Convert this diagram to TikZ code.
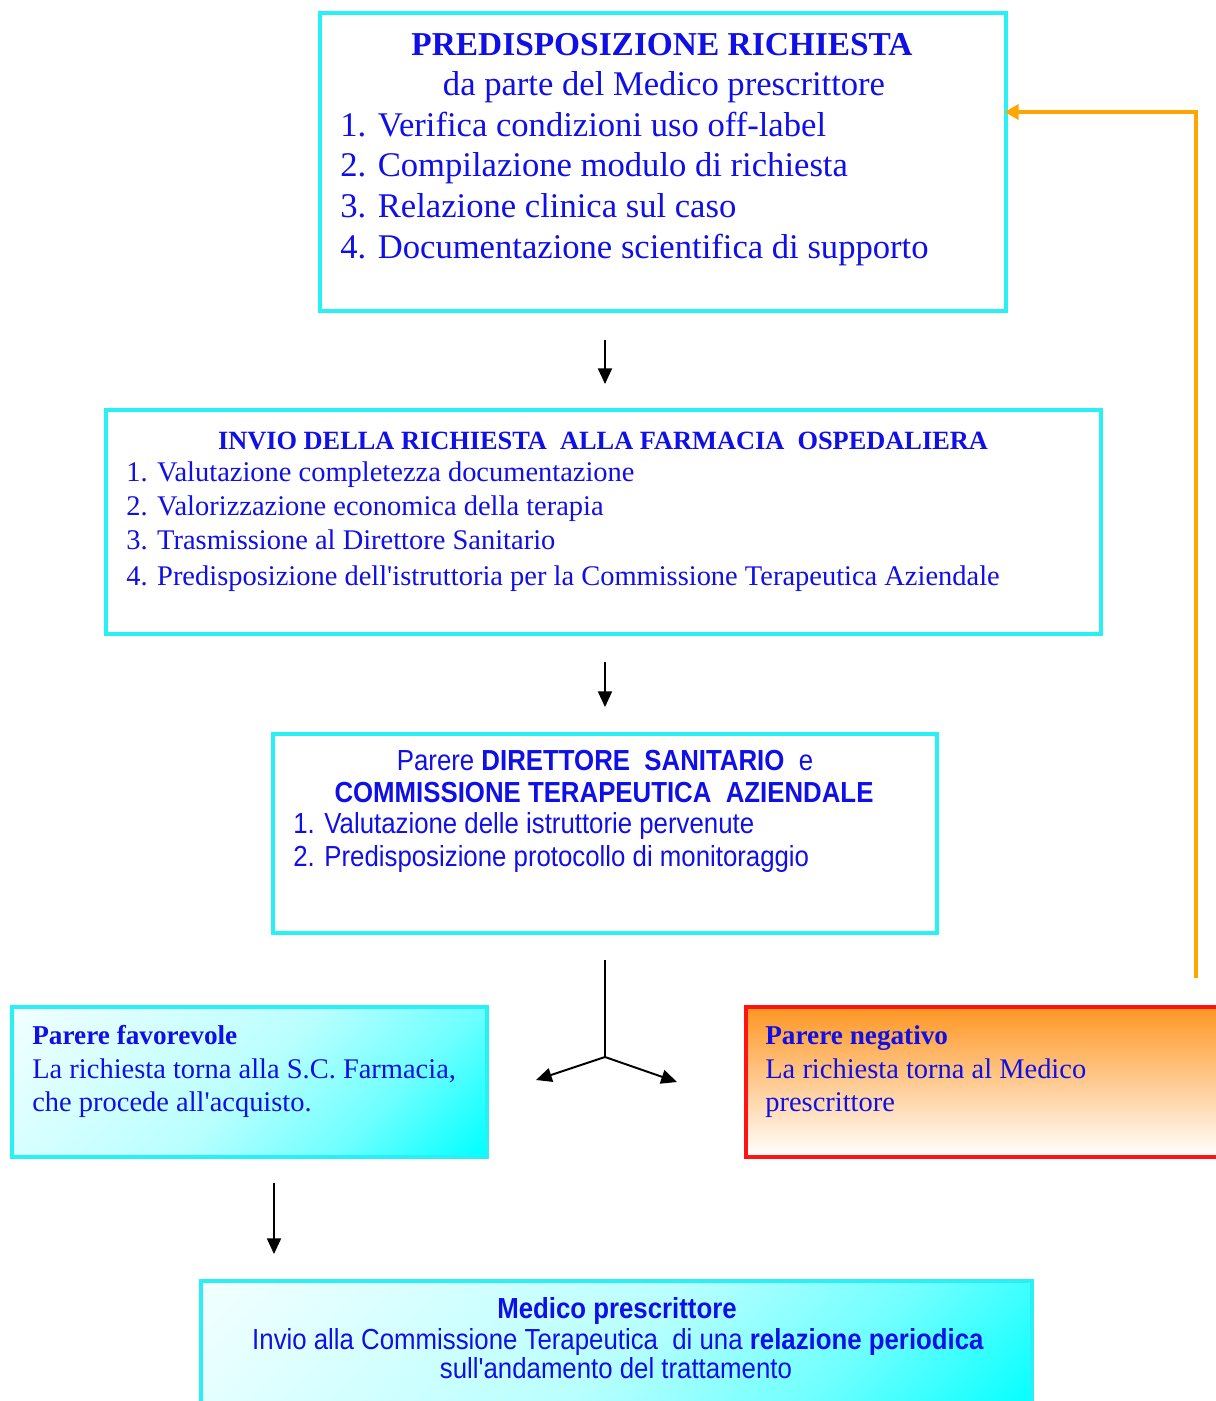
\documentclass[tikz,border=0pt]{standalone}
\usepackage{fontspec}
\newfontfamily\serifr{Liberation Serif}
\newfontfamily\sansc[FakeStretch=0.89]{Liberation Sans}
\usetikzlibrary{arrows.meta,fit,shadings}

\definecolor{txtblue}{RGB}{15,15,230}
\definecolor{boxcyan}{RGB}{40,240,245}
\definecolor{cyanA}{RGB}{110,255,255}
\definecolor{cyanB}{RGB}{185,255,255}
\definecolor{cyanC}{RGB}{242,255,255}
\definecolor{negred}{RGB}{255,20,20}
\definecolor{negorange}{RGB}{255,150,35}
\definecolor{negpeach}{RGB}{255,220,190}
\definecolor{retorange}{RGB}{255,165,0}

% diagonal cyan fill: nearly white in the upper left corner,
% full cyan in the lower right corner
\pgfdeclareverticalshading{diagcyan}{100bp}{%
  color(0bp)=(cyan); color(15bp)=(cyan); color(32bp)=(cyanA);
  color(50bp)=(cyanB); color(85bp)=(cyanC); color(100bp)=(cyanC)}

\tikzset{
  box/.style={draw=boxcyan, line width=2.3pt, fill=white, inner sep=0pt},
  cyanshade/.style={draw=boxcyan, line width=2.3pt, inner sep=0pt, shading=diagcyan, shading angle=45},
  negbox/.style={draw=negred, line width=2.3pt, inner sep=0pt,
                 top color=negorange, middle color=negpeach, bottom color=white},
  txt/.style={text=txtblue, inner sep=0pt},
  lft/.style={txt, anchor=base west},
  ctr/.style={txt, anchor=base},
  serifbig/.style={font=\serifr\fontsize{19.7}{24}\selectfont},
  serifmid/.style={font=\serifr\fontsize{16.2}{20}\selectfont},
  serifbold/.style={font=\serifr\bfseries\fontsize{15.5}{20}\selectfont},
  sansmid/.style={font=\sansc\fontsize{16.5}{20}\selectfont},
  sansbold/.style={font=\sansc\bfseries\fontsize{16.5}{20}\selectfont},
  flow/.style={draw=black, line width=1.1pt, -{Triangle[length=9pt,width=8pt]}},
  back/.style={draw=retorange, line width=2.8pt, -{Triangle[length=8pt,width=8.5pt]}},
}

\begin{document}
\begin{tikzpicture}[x=0.02cm, y=-0.02cm]
\useasboundingbox (0,0) rectangle (1215,1401);

% boxes
\node[box, fit={(320,13) (1006,311)}] (req) {};
\node[box, fit={(106,410) (1101,634)}] (farm) {};
\node[box, fit={(273,734) (937,933)}] (comm) {};
\node[cyanshade, fit={(12,1007) (487,1157)}] (fav) {};
\node[negbox, fit={(746,1007) (1235,1157)}] (neg) {};
\node[cyanshade, fit={(201,1281) (1032,1421)}] (med) {};

% request preparation
\node[ctr, font=\serifr\bfseries\fontsize{19}{24}\selectfont] (r0) at (662,55) {PREDISPOSIZIONE RICHIESTA};
\node[ctr, serifbig] (r1) at (664,95) {da parte del Medico prescrittore};
\node[lft, serifbig] (r2) at (340,136) {1. Verifica condizioni uso off-label};
\node[lft, serifbig] (r3) at (340,176) {2. Compilazione modulo di richiesta};
\node[lft, serifbig] (r4) at (340,217) {3. Relazione clinica sul caso};
\node[lft, serifbig] (r5) at (340,258) {4. Documentazione scientifica di supporto};

% hospital pharmacy
\node[ctr, font=\serifr\bfseries\fontsize{15}{20}\selectfont] (f0) at (603,449) {INVIO DELLA RICHIESTA\ \ ALLA FARMACIA\ \ OSPEDALIERA};
\node[lft, serifmid] (f1) at (126,481) {1. Valutazione completezza documentazione};
\node[lft, serifmid] (f2) at (126,515) {2. Valorizzazione economica della terapia};
\node[lft, serifmid] (f3) at (126,549) {3. Trasmissione al Direttore Sanitario};
\node[lft, serifmid] (f4) at (126,585) {4. Predisposizione dell'istruttoria per la Commissione Terapeutica Aziendale};

% committee opinion
\node[ctr, sansmid] (c0) at (605,770) {Parere \textbf{DIRETTORE\ \ SANITARIO}\ \ e};
\node[ctr, sansbold] (c1) at (604,802) {COMMISSIONE TERAPEUTICA\ \ AZIENDALE};
\node[lft, sansmid] (c2) at (293,833) {1. Valutazione delle istruttorie pervenute};
\node[lft, sansmid] (c3) at (293,866) {2. Predisposizione protocollo di monitoraggio};

% favourable opinion
\node[lft, serifbold] (p0) at (32,1044) {Parere favorevole};
\node[lft, serifmid] (p1) at (32,1078) {La richiesta torna alla S.C. Farmacia,};
\node[lft, serifmid] (p2) at (32,1111) {che procede all'acquisto.};

% negative opinion
\node[lft, serifbold] (n0) at (765,1044) {Parere negativo};
\node[lft, serifmid] (n1) at (765,1078) {La richiesta torna al Medico};
\node[lft, serifmid] (n2) at (765,1111) {prescrittore};

% periodic report
\node[ctr, sansbold] (m0) at (617,1318) {Medico prescrittore};
\node[ctr, sansmid] (m1) at (618,1349) {Invio alla Commissione Terapeutica\ \ di una \textbf{relazione periodica}};
\node[ctr, sansmid] (m2) at (616,1378) {sull'andamento del trattamento};

% connectors
\coordinate (fork) at (605,1057);
\coordinate (forkL) at (536,1080);
\coordinate (forkR) at (677,1082);
\coordinate (down) at (274,1183);
\coordinate (ret) at (1196,112);

\draw[flow, shorten <=27*0.5669pt, shorten >=24*0.5669pt] (req.south -| comm.north) -- (farm.north -| comm.north);
\draw[flow, shorten <=26*0.5669pt, shorten >=25*0.5669pt] (farm.south -| comm.north) -- (comm.north);
\draw[draw=black, line width=1.1pt, shorten <=25*0.5669pt] (comm.south) -- (fork);
\draw[flow] (fork) -- (forkL);
\draw[flow] (fork) -- (forkR);
\draw[flow, shorten >=25*0.5669pt] (down) -- (med.north -| down);
\draw[back, shorten <=27*0.5669pt, shorten >=-2pt] (neg.north -| ret) -- (ret) -- (req.east |- ret);
\end{tikzpicture}
\end{document}
